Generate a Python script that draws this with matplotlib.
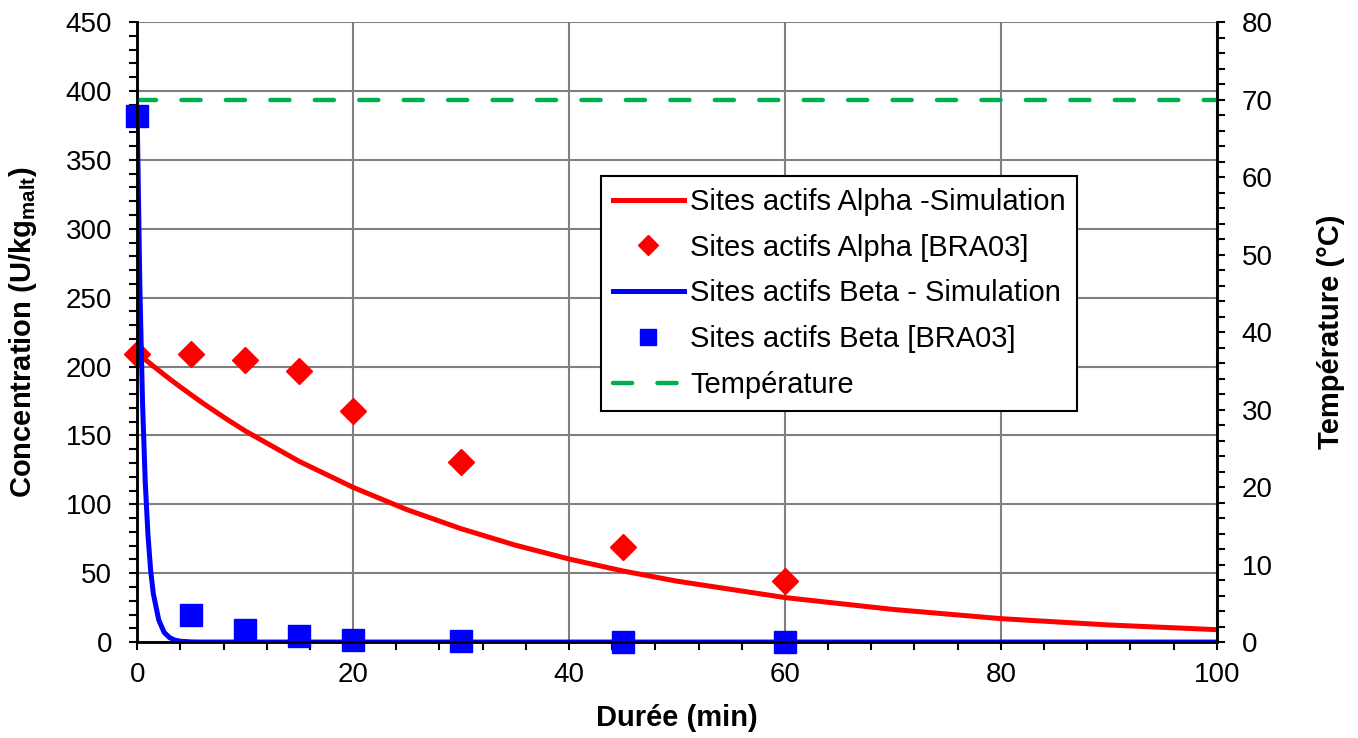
import numpy as np
import matplotlib
matplotlib.use("Agg")
import matplotlib.pyplot as plt
from matplotlib.ticker import MultipleLocator

plt.rcParams['font.family'] = ['Liberation Sans', 'DejaVu Sans']
plt.rcParams['mathtext.fontset'] = 'custom'
plt.rcParams['mathtext.rm'] = 'Liberation Sans:bold'
plt.rcParams['mathtext.bf'] = 'Liberation Sans:bold'

# simulated curves
sim_t = [0, 0.25, 0.5, 0.75, 1, 1.25, 1.5, 2, 2.5, 3, 3.5, 4, 5, 6, 8, 10, 15, 20, 25, 30,
         35, 40, 45, 50, 60, 70, 80, 90, 100]
alpha_sim = [210, 208.3, 206.7, 205.1, 203.5, 201.9, 200.3, 197.2, 194.1, 191.1, 188.1,
             185.2, 179.5, 173.9, 163.3, 153.3, 131.2, 112.3, 96.1, 82.3, 70.4, 60.3,
             51.6, 44.2, 32.3, 23.7, 17.0, 12.4, 9.0]
beta_sim = [385, 258, 173, 116, 78, 52, 35, 16, 7, 3.2, 1.4, 0.6, 0.1, 0, 0, 0, 0, 0, 0, 0,
            0, 0, 0, 0, 0, 0, 0, 0, 0]

# measured points [BRA03]
exp_t = [0, 5, 10, 15, 20, 30, 45, 60]
alpha_exp = [209, 209, 205, 197, 168, 131, 69, 44]
beta_exp = [382, 20, 8.5, 4.5, 1.5, 0.5, 0.3, 0.2]

# temperature profile
temp_t = [0, 100]
temp = [70, 70]

fig = plt.figure(figsize=(13.58, 7.38), dpi=100)
ax = fig.add_axes([0.101, 0.13, 0.795, 0.84])
ax2 = ax.twinx()

l1, = ax.plot(sim_t, alpha_sim, color='#ff0000', lw=3.6, label='Sites actifs Alpha -Simulation')
l2, = ax.plot(exp_t, alpha_exp, 'D', color='#ff0000', ms=13.2, ls='none', clip_on=False,
              label='Sites actifs Alpha [BRA03]')
l3, = ax.plot(sim_t, beta_sim, color='#0000ff', lw=3.6, label='Sites actifs Beta - Simulation')
l4, = ax.plot(exp_t, beta_exp, 's', color='#0000ff', ms=16, ls='none', clip_on=False,
              label='Sites actifs Beta [BRA03]')
l5, = ax2.plot(temp_t, temp, color='#00b050', lw=3.2, dashes=(4.3, 5.7), dash_capstyle='round',
               label='Température')

ax.set_xlim(0, 100)
ax.set_ylim(0, 450)
ax2.set_ylim(0, 80)

ax.xaxis.set_major_locator(MultipleLocator(20))
ax.xaxis.set_minor_locator(MultipleLocator(4))
ax.yaxis.set_major_locator(MultipleLocator(50))
ax.yaxis.set_minor_locator(MultipleLocator(10))
ax2.yaxis.set_major_locator(MultipleLocator(10))
ax2.yaxis.set_minor_locator(MultipleLocator(2))

ax.grid(True, which='major', color='#808080', lw=1.5)
ax.set_axisbelow(True)

for a in (ax, ax2):
    a.spines['top'].set_visible(False)
    for s in ('left', 'right', 'bottom'):
        a.spines[s].set_linewidth(1.8)
    a.tick_params(which='both', direction='out', length=6, width=1.5, labelsize=20)
ax.tick_params(axis='x', pad=8)
ax.tick_params(axis='y', pad=12)
ax2.tick_params(axis='y', pad=12)

ax.set_xlabel('Durée (min)', fontsize=21, fontweight='bold')
ax.set_ylabel(r'Concentration (U/kg$_{\mathrm{malt}}$)', fontsize=21, fontweight='bold')
ax2.set_ylabel('Température (°C)', fontsize=21, fontweight='bold')
ax.xaxis.set_label_coords(0.5, -0.1)
ax.yaxis.set_label_coords(-0.091, 0.5)
ax2.yaxis.set_label_coords(1.093, 0.5)

leg = ax2.legend(handles=[l1, l2, l3, l4, l5], loc='upper left', bbox_to_anchor=(0.4296, 0.7516),
                 borderaxespad=0, fontsize=21, frameon=True, fancybox=False, framealpha=1,
                 edgecolor='black', handlelength=2.45, handletextpad=0.2, labelspacing=0.61,
                 markerscale=0.75, borderpad=0.4)
leg.get_frame().set_linewidth(1.5)

fig.savefig('out.png', dpi=100)
